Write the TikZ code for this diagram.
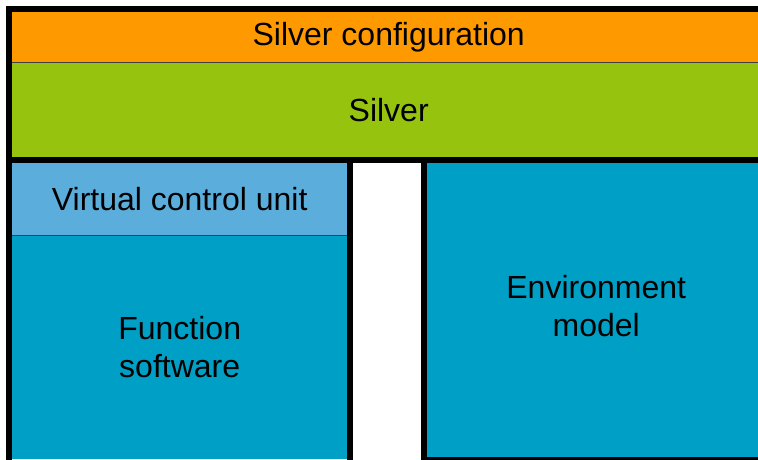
\documentclass[tikz,border=0pt]{standalone}
\usepackage{fontspec}
\setmainfont{Liberation Sans}
\definecolor{cfgorange}{RGB}{255,153,0}
\definecolor{silvergreen}{RGB}{150,196,14}
\definecolor{vcublue}{RGB}{91,174,220}
\definecolor{modelblue}{RGB}{0,160,198}
\tikzset{
  region/.style={anchor=north west,inner sep=0pt,align=center,
    font=\fontsize{32}{38}\selectfont},
  frame/.style={draw=black,line width=6pt},
  seam/.style={draw=black!75,line width=1pt}
}
\begin{document}
\begin{tikzpicture}[x=1pt,y=1pt]
            \useasboundingbox (0,0) rectangle (758,459);
            \clip (0,0) rectangle (758,459);
            \node[region,fill=cfgorange,minimum width=753pt,minimum height=50pt] (config) at (12,447) {Silver configuration};
            \node[region,fill=silvergreen,minimum width=753pt,minimum height=95pt] (silver) at (12,397) {Silver};
            \node[region,fill=vcublue,minimum width=335pt,minimum height=72pt] (vcu) at (12,296) {Virtual control unit};
            \node[region,fill=modelblue,minimum width=335pt,minimum height=224pt] (function) at (12,224) {Function\\software};
            \node[region,fill=modelblue,minimum width=338pt,minimum height=294pt] (env) at (427,296) {\raisebox{5pt}{\begin{tabular}{@{}c@{}}Environment\\model\end{tabular}}};

            \draw[seam] (config.south west) -- (config.south east);
            \draw[seam] (vcu.south west) -- (vcu.south east);

            \draw[frame] ([shift={(-3,3)}]config.north west) rectangle ([shift={(3,-3)}]silver.south east);
            \draw[frame] ([shift={(-3,3)}]vcu.north west) rectangle ([shift={(3,-12)}]function.south east);
            \draw[frame] ([shift={(-3,3)}]env.north west) rectangle ([shift={(3,-3)}]env.south east);
        \end{tikzpicture}
\end{document}
